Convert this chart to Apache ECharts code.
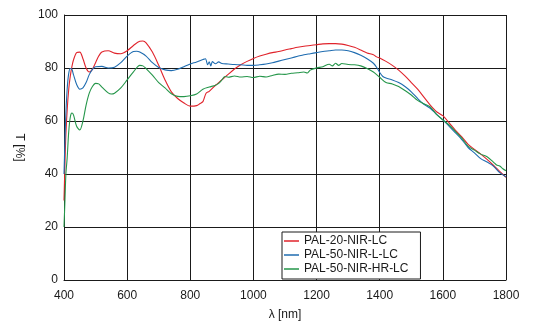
<!DOCTYPE html>
<html>
<head>
<meta charset="utf-8">
<script src="https://cdn.jsdelivr.net/npm/echarts@6/dist/echarts.min.js"></script>
<style>
html,body{margin:0;padding:0;background:#fff;}
#chart{width:551px;height:331px;}
</style>
</head>
<body>
<div id="chart"></div>
<script>
var seriesNames = ['PAL-20-NIR-LC', 'PAL-50-NIR-L-LC', 'PAL-50-NIR-HR-LC'];
var xTicks = [400, 600, 800, 1000, 1200, 1400, 1600, 1800];
var yTicks = [0, 20, 40, 60, 80, 100];

var redX = [400,405,410,415,420,425,430,440,450,460,470,480,490,500,510,520,540,560,580,600,620,640,650,660,680,700,720,740,760,780,800,820,830,840,850,860,880,900,920,940,960,980,1000,1020,1040,1060,1080,1100,1120,1140,1160,1180,1200,1220,1240,1260,1280,1300,1320,1340,1360,1380,1390,1400,1420,1440,1460,1480,1500,1520,1540,1560,1580,1600,1620,1640,1660,1680,1700,1720,1740,1760,1780,1800];
var redY = [30,52,64,72,77,80.5,83,85.8,86,83.5,80,78.5,79.5,82,84.5,86,86.5,85.6,85.4,86.5,88.5,90.1,90.2,89.5,86,81,75.5,71,68.5,66.8,65.6,65.8,66.5,67.3,70.5,71.2,73.5,75.5,77.6,79.6,81.2,82.5,83.6,84.5,85.2,85.8,86.2,86.8,87.3,87.8,88.2,88.5,88.8,89.1,89.2,89.2,89,88.5,87.8,86.8,85.7,85,84.2,83.8,82.5,81,79.2,77,74.5,72,69,66,63.5,62,59.3,56.5,54,51.2,49.3,47.5,45.5,43.3,41,38.7];

var blueX = [400,405,410,415,420,425,430,440,450,460,470,480,490,500,520,540,560,580,600,620,630,640,660,680,700,720,740,760,780,800,820,840,848,855,860,865,870,880,890,900,920,940,960,980,1000,1020,1040,1060,1080,1100,1120,1140,1160,1180,1200,1220,1240,1260,1280,1300,1320,1340,1360,1380,1390,1400,1410,1420,1440,1460,1480,1500,1520,1540,1560,1580,1600,1620,1640,1660,1680,1700,1720,1740,1760,1780,1800];
var blueY = [40,60,72,78,79.8,79.5,77.5,73.8,72,72.5,74.5,77.5,79.5,80.5,80.6,80,80.3,82,84.5,86.2,86.3,86,84.5,82,80.2,79.3,79,79.5,80.5,81.5,82.3,83.2,83.5,81.2,82.3,80.8,82.4,81.6,82.3,81.7,81.5,81.3,81.2,81,81,81.2,81.5,82,82.6,83.2,83.8,84.4,85,85.4,85.8,86.2,86.5,86.8,86.8,86.5,85.8,84.8,83.5,81.8,80.3,78.3,76.8,76.2,75.5,74.5,73,71,68.5,66.3,64.8,62.5,60.4,58,55.5,53,50,48,45.8,44.5,43,40.5,39];

var greenX = [400,403,406,410,415,420,425,430,440,450,460,470,480,490,500,510,520,540,550,560,580,600,620,640,650,660,680,700,720,740,760,780,800,820,840,860,880,890,900,910,920,940,960,980,1000,1020,1040,1060,1080,1100,1120,1140,1160,1170,1180,1200,1220,1240,1250,1260,1270,1280,1300,1320,1340,1360,1380,1400,1420,1440,1460,1480,1500,1520,1540,1560,1580,1600,1620,1640,1660,1680,1700,1720,1740,1760,1770,1780,1790,1800];
var greenY = [20,30,40,46,56,61.5,63,62.3,58,56.6,60,66,70.5,73,74.2,74,72.8,70.6,70.2,70.5,72.5,75.5,78.5,81,80.8,79.8,77.3,74.5,72.5,70.3,69.3,69.2,69.5,70.2,72,72.8,73.5,74.2,75.5,76.8,76.5,77,76.6,76.8,76.4,76.9,76.6,77.2,77.7,77.6,78,78.2,78.5,78.1,79.2,80,80.5,81.4,80.8,81.8,81,81.7,81.3,81.2,80.8,79.8,78.5,76.5,74.5,74,73,71.5,69.8,67.8,66.5,65.3,62.5,60.4,58.5,56,53.5,50.5,49,47.5,46.5,44.5,43.4,43,42,41.2];

function pairs(xs, ys) {
  var out = [];
  for (var i = 0; i < xs.length; i++) out.push([xs[i], ys[i]]);
  return out;
}

var colors = ['#e0232b', '#1f6cb0', '#25964a'];
var font = 'Liberation Sans, Arial, sans-serif';

var chart = echarts.init(document.getElementById('chart'), null, {renderer: 'canvas'});
chart.setOption({
  animation: false,
  backgroundColor: '#fff',
  color: colors,
  grid: {left: 64, top: 15, right: 45, bottom: 51, containLabel: false},
  xAxis: {
    type: 'value',
    min: xTicks[0], max: xTicks[xTicks.length - 1], interval: 200,
    name: 'λ [nm]', nameLocation: 'middle', nameGap: 29,
    nameTextStyle: {color: '#1a1a1a', fontSize: 12, fontFamily: font},
    axisLine: {show: true, lineStyle: {color: '#1a1a1a', width: 1}},
    axisTick: {show: false},
    axisLabel: {color: '#1a1a1a', fontSize: 12, fontFamily: font, margin: 10,
      formatter: function (v) { return String(v); }},
    splitLine: {show: true, lineStyle: {color: '#1a1a1a', width: 1}}
  },
  yAxis: {
    type: 'value',
    min: yTicks[0], max: yTicks[yTicks.length - 1], interval: 20,
    name: 'T [%]', nameLocation: 'middle', nameGap: 39, nameRotate: -90,
    nameTextStyle: {color: '#1a1a1a', fontSize: 12, fontFamily: font},
    axisLine: {show: true, lineStyle: {color: '#1a1a1a', width: 1}},
    axisTick: {show: false},
    axisLabel: {color: '#1a1a1a', fontSize: 12, fontFamily: font, margin: 6,
      formatter: function (v) { return String(v); }},
    splitLine: {show: true, lineStyle: {color: '#1a1a1a', width: 1}}
  },
  legend: {
    orient: 'vertical',
    left: 282, top: 232,
    data: seriesNames,
    icon: 'rect',
    itemWidth: 15, itemHeight: 1.5,
    itemGap: 0,
    padding: [2, 12, 3, 2],
    borderColor: '#1a1a1a', borderWidth: 1,
    backgroundColor: '#fff',
    textStyle: {color: '#1a1a1a', fontSize: 12, fontFamily: font, lineHeight: 14}
  },
  series: [
    {name: seriesNames[0], type: 'line', data: pairs(redX, redY), showSymbol: false, smooth: 0.3, lineStyle: {width: 1.1}},
    {name: seriesNames[1], type: 'line', data: pairs(blueX, blueY), showSymbol: false, smooth: 0.3, lineStyle: {width: 1.1}},
    {name: seriesNames[2], type: 'line', data: pairs(greenX, greenY), showSymbol: false, smooth: 0.3, lineStyle: {width: 1.1}}
  ]
});
</script>
</body>
</html>
